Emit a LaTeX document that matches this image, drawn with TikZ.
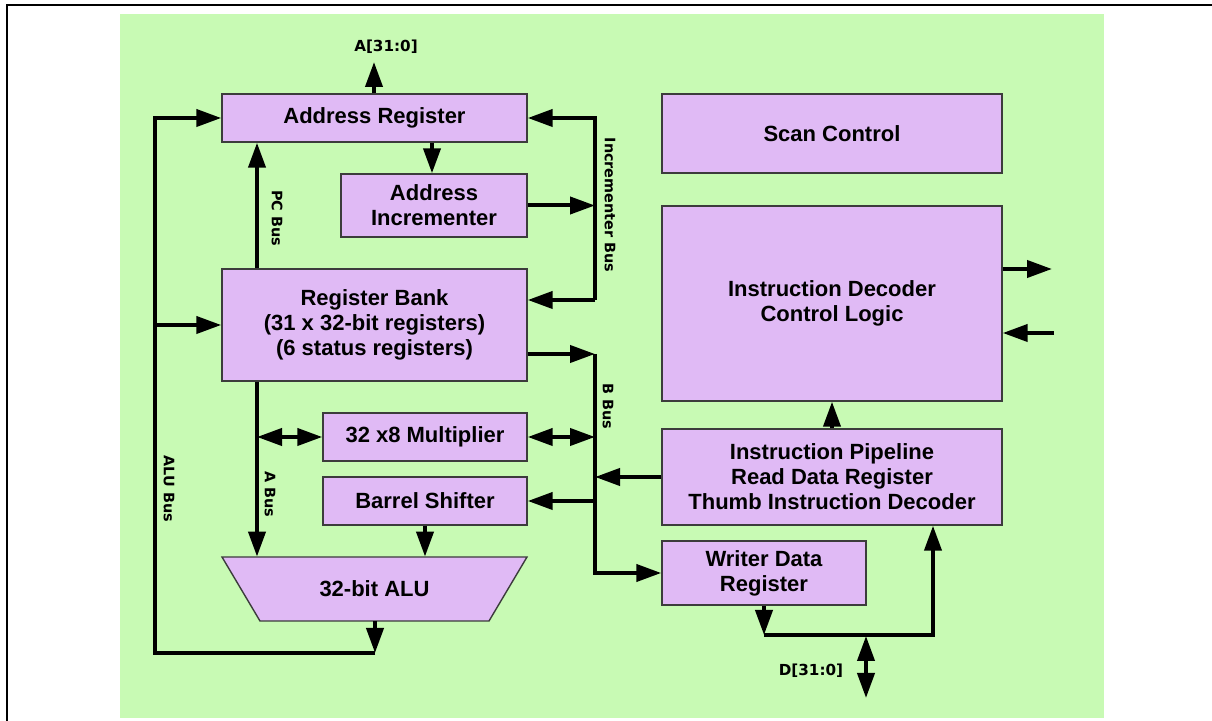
\documentclass[tikz,border=0pt]{standalone}
\usepackage{fontspec}
\setmainfont{Liberation Sans}
\newfontfamily\lblfont{DejaVu Sans}
\usetikzlibrary{arrows.meta}
\definecolor{bg}{RGB}{200,250,180}
\definecolor{pu}{RGB}{224,186,245}
\definecolor{bd}{RGB}{60,60,60}
\begin{document}
\begin{tikzpicture}[x=0.5pt,y=-0.5pt,
 box/.style={draw=bd, line width=0.7pt, fill=pu, inner sep=0pt, align=center, font=\fontsize{11}{12.5}\selectfont\bfseries},
 arr/.style={line width=2pt, -{Triangle[length=12.5pt,width=8.5pt]}},
 dbl/.style={line width=2pt, {Triangle[length=12.5pt,width=8.5pt]}-{Triangle[length=12.5pt,width=8.5pt]}},
 buslbl/.style={font=\lblfont\bfseries\fontsize{7.2}{8}\selectfont, rotate=-90, inner sep=0pt},
 pinlbl/.style={font=\lblfont\bfseries\fontsize{7.6}{8}\selectfont, inner sep=0pt}]
\useasboundingbox (0,0) rectangle (1212,721);
\fill[bg] (120,14) rectangle (1104,718);
\draw[line width=1pt] (7,721) -- (7,5.5) -- (1212,5.5);

% boxes
\node[box, minimum width=152.5pt, minimum height=24pt] (ar) at (374.5,118) {Address Register};
\node[box, minimum width=93pt, minimum height=31.5pt] (ai) at (434,205.5) {Address\\Incrementer};
\node[box, minimum width=152.5pt, minimum height=56pt] (rb) at (374.5,325) {Register Bank\\(31 x 32-bit registers)\\(6 status registers)};
\node[box, minimum width=102pt, minimum height=24pt] (mul) at (425,437) {32 x8 Multiplier};
\node[box, minimum width=102pt, minimum height=24pt] (bs) at (425,501) {Barrel Shifter};
\fill[pu, draw=bd, line width=0.7pt] (222,557) -- (527,557) -- (489,621) -- (260,621) -- cycle;
\node[inner sep=0pt, minimum width=152.5pt, minimum height=32pt, font=\fontsize{11}{12.5}\selectfont\bfseries] (alu) at (374.5,589) {32-bit ALU};
\node[box, minimum width=170pt, minimum height=39.5pt] (sc) at (832,133.5) {Scan Control};
\node[box, minimum width=170pt, minimum height=97.5pt] (id) at (832,303.5) {Instruction Decoder\\Control Logic};
\node[box, minimum width=170pt, minimum height=48pt] (ip) at (832,477) {Instruction Pipeline\\Read Data Register\\Thumb Instruction Decoder};
\node[box, minimum width=102pt, minimum height=32pt] (wd) at (764,573) {Writer Data\\Register};

% coordinates
\coordinate (atop) at (374,62);
\coordinate (alux) at (375,653);
\coordinate (alub) at (155,653);
\coordinate (pcx) at (257,0);
\coordinate (aix) at (432,0);
\coordinate (ibb) at (595,300);
\coordinate (bbt) at (595,354);
\coordinate (bbb) at (595,573);
\coordinate (o1) at (1052,269);
\coordinate (i1) at (1054,333);
\coordinate (dl) at (764,635);
\coordinate (dr) at (933,635);
\coordinate (dt) at (866,636);
\coordinate (db) at (866,698);

% A[31:0]
\draw[arr] (ar.north -| atop) -- (atop);
\node[pinlbl] (alab) at (386,47) {A[31:0]};

% ALU bus
\draw[arr] (alu.south -| alux) -- (alux);
\draw[arr] (alux) -- (alub) |- (ar.west);
\draw[arr] (alub |- rb.west) -- (rb.west);
\node[buslbl] (alul) at (169,489) {ALU Bus};

% PC bus
\draw[arr] (rb.north -| pcx) -- (ar.south -| pcx);
\node[buslbl] (pcl) at (277,218) {PC Bus};

% address register -> incrementer
\draw[arr] (ar.south -| aix) -- (ai.north -| aix);

% incrementer bus
\draw[arr] (ai.east) -- (ai.east -| ibb);
\draw[arr] (ibb) |- (ar.east);
\draw[arr] (ibb) -- (rb.east |- ibb);
\node[buslbl] (ibl) at (610,205) {Incrementer Bus};

% B bus
\draw[arr] (rb.east |- bbt) -- (bbt);
\draw[arr] (bbt) |- (wd.west);
\draw[dbl] (mul.east) -- (mul.east -| bbt);
\draw[arr] (bbt |- bs.east) -- (bs.east);
\draw[arr] (ip.west) -- (ip.west -| bbt);
\node[buslbl] (bbl) at (608,406) {B Bus};

% A bus
\draw[arr] (rb.south -| pcx) -- (alu.north -| pcx);
\draw[dbl] (pcx |- mul.west) -- (mul.west);
\node[buslbl] (abl) at (270,494) {A Bus};

% barrel shifter -> ALU
\draw[arr] (bs.south) -- (bs.south |- alu.north);

% pipeline -> decoder
\draw[arr] (ip.north) -- (id.south);

% decoder outputs/inputs
\draw[arr] (id.east |- o1) -- (o1);
\draw[arr] (i1) -- (id.east |- i1);

% data bus
\draw[arr] (wd.south) -- (dl);
\draw[arr] (dl) -- (dr) -- (ip.south -| dr);
\draw[dbl] (dt) -- (db);
\node[pinlbl] (dlab) at (811,671) {D[31:0]};
\end{tikzpicture}
\end{document}
